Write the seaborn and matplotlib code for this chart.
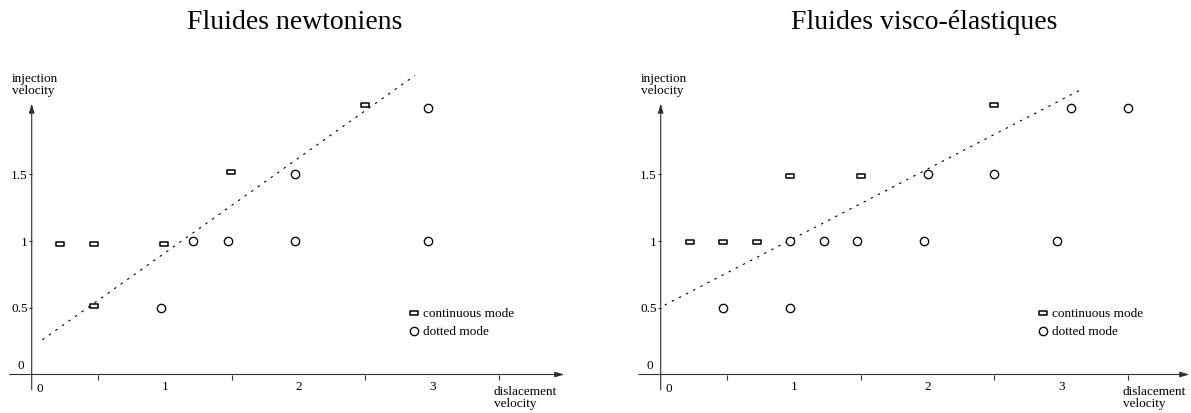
import matplotlib
matplotlib.use("Agg")
import matplotlib.pyplot as plt
from matplotlib.path import Path
import seaborn as sns
import pandas as pd

# ---------------- data ----------------
newt_cont_x = [0.21, 0.47, 0.99, 0.47, 1.49, 2.50]
newt_cont_y = [0.98, 0.98, 0.98, 0.51, 1.52, 2.02]
newt_dot_x = [0.97, 1.21, 1.47, 1.97, 1.97, 2.97, 2.97]
newt_dot_y = [0.50, 1.00, 1.00, 1.00, 1.50, 1.00, 2.00]
newt_line_x = [0.08, 2.87]
newt_line_y = [0.26, 2.24]

visco_cont_x = [0.22, 0.47, 0.72, 0.97, 1.50, 2.50]
visco_cont_y = [0.99, 0.99, 0.99, 1.49, 1.49, 2.02]
visco_dot_x = [0.47, 0.97, 0.97, 1.22, 1.47, 1.97, 2.00, 2.50, 2.97, 3.07, 3.50]
visco_dot_y = [0.50, 0.50, 1.00, 1.00, 1.00, 1.00, 1.50, 1.50, 1.00, 2.00, 2.00]
visco_line_x = [0.03, 3.16]
visco_line_y = [0.52, 2.14]

titles = ["Fluides newtoniens", "Fluides visco-élastiques"]
series_labels = ["continuous mode", "dotted mode"]
x_tick_labels = ["1", "2", "3"]
y_tick_labels = ["0.5", "1", "1.5"]
y_axis_label = "injection\nvelocity"
x_axis_label = "dislacement\nvelocity"

# ---------------- style ----------------
sns.set_style("white")
plt.rcParams["font.family"] = ["Liberation Serif", "DejaVu Serif"]
plt.rcParams["text.color"] = "black"

W, H = 1191, 413
fig = plt.figure(figsize=(W / 100, H / 100), dpi=100)

UNIT = 133.5          # px per data unit (both axes)
Y0_PX = 374.5         # px (from top) of y = 0
YLIM = (-0.28, 2.45)

rect_marker = Path([(-1, -0.5), (1, -0.5), (1, 0.5), (-1, 0.5), (-1, -0.5)], closed=True)
AXCOL = "#303030"


def make_axes(x0_px, xlim):
    left = (x0_px + xlim[0] * UNIT) / W
    width = (xlim[1] - xlim[0]) * UNIT / W
    bottom = (H - (Y0_PX - YLIM[0] * UNIT)) / H
    height = (YLIM[1] - YLIM[0]) * UNIT / H
    ax = fig.add_axes([left, bottom, width, height])
    ax.set_xlim(*xlim)
    ax.set_ylim(*YLIM)
    return ax


def draw_panel(ax, cont_x, cont_y, dot_x, dot_y, line_x, line_y, title, x_end):
    ax.set_facecolor("white")
    for s in ax.spines.values():
        s.set_visible(False)
    ax.spines["left"].set_position(("data", 0))
    ax.spines["bottom"].set_position(("data", 0))

    # axes with arrows
    arrow = dict(arrowstyle="-|>,head_length=0.55,head_width=0.16", lw=0.8,
                 color=AXCOL, shrinkA=0, shrinkB=0)
    ax.annotate("", xy=(x_end, 0), xytext=(-0.165, 0), arrowprops=arrow,
                annotation_clip=False)
    ax.annotate("", xy=(0, 2.03), xytext=(0, -0.115), arrowprops=arrow,
                annotation_clip=False)

    # ticks
    ax.set_xticks([1, 2, 3], x_tick_labels)
    ax.set_xticks([0.5, 1.5, 2.5, 3.5], minor=True)
    ax.tick_params(axis="x", which="major", length=0, pad=5, labelsize=9.5,
                   labelcolor="black")
    ax.tick_params(axis="x", which="minor", direction="out", length=3.5,
                   width=0.8, color=AXCOL, bottom=True)
    ax.set_yticks([0.5, 1, 1.5], y_tick_labels)
    ax.tick_params(axis="y", which="major", direction="out", length=2.5,
                   width=0.8, color=AXCOL, pad=0.5, labelsize=9.5,
                   labelcolor="black", left=True)

    ax.text(0.035, -0.06, "0", ha="left", va="top", fontsize=9.5)
    ax.text(-0.06, 0.02, "0", ha="right", va="bottom", fontsize=9.5)

    ax.text(-0.15, 2.165, y_axis_label, ha="left", va="center", fontsize=9.5,
            linespacing=1.0)
    ax.text(3.46, -0.175, x_axis_label, ha="left", va="center", fontsize=9.5,
            linespacing=1.0)

    # fitted dotted line
    sns.lineplot(x=line_x, y=line_y, ax=ax, color="black", lw=0.8,
                 linestyle=(0, (2.2, 5.0)), legend=False)

    # data
    sns.scatterplot(x=cont_x, y=cont_y, ax=ax, marker=rect_marker, s=33,
                    facecolor="white", edgecolor="black", linewidth=1.1,
                    label=series_labels[0], zorder=3)
    sns.scatterplot(x=dot_x, y=dot_y, ax=ax, marker="o", s=36,
                    facecolor="white", edgecolor="black", linewidth=0.95,
                    label=series_labels[1], zorder=3)

    ax.legend(loc="center left", bbox_to_anchor=(2.835, 0.388),
              bbox_transform=ax.transData, frameon=False, fontsize=9.5,
              handlelength=0.6, handletextpad=0.35, borderpad=0,
              borderaxespad=0, labelspacing=0.42, markerscale=1.0,
              labelcolor="black")

    ax.text(1.97, (Y0_PX - 29) / UNIT, title, ha="center", va="baseline",
            fontsize=20, color="black", clip_on=False)
    ax.set_xlabel("")
    ax.set_ylabel("")


ax1 = make_axes(31.7, (-0.22, 4.05))
draw_panel(ax1, newt_cont_x, newt_cont_y, newt_dot_x, newt_dot_y,
           newt_line_x, newt_line_y, titles[0], 3.99)

ax2 = make_axes(660.7, (-0.22, 3.97))
draw_panel(ax2, visco_cont_x, visco_cont_y, visco_dot_x, visco_dot_y,
           visco_line_x, visco_line_y, titles[1], 3.96)

fig.savefig("out.png", dpi=100, facecolor="white")
